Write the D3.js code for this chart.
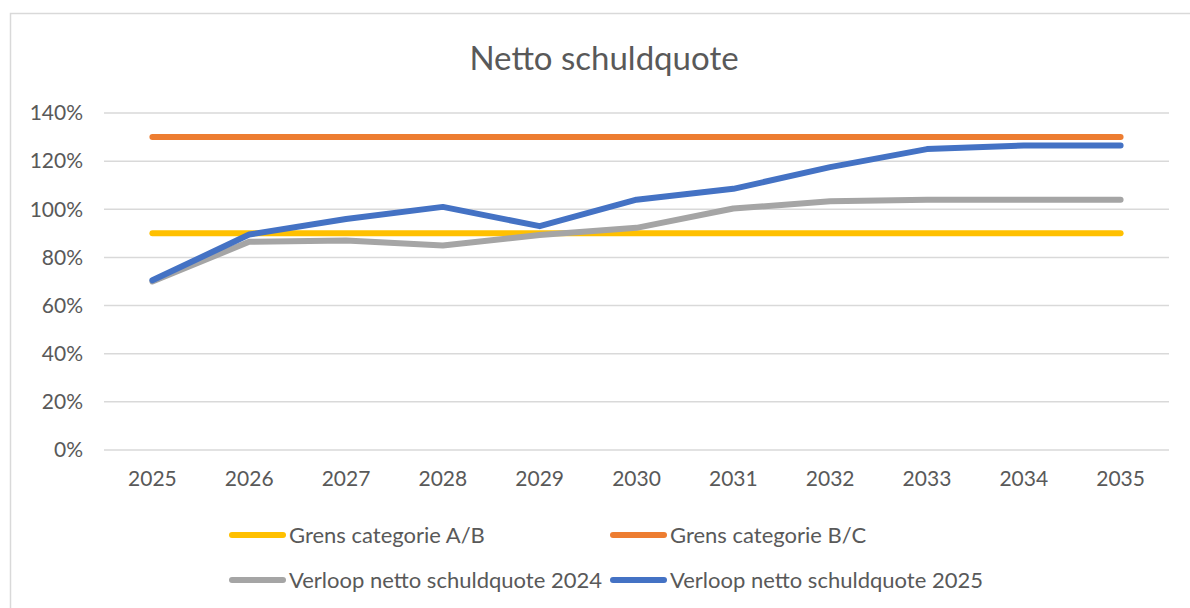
<!DOCTYPE html>
<html>
<head>
<meta charset="utf-8">
<script src="https://cdn.jsdelivr.net/npm/d3@7"></script>
<style>
  body { margin: 0; background: #fff; }
  svg { display: block; font-family: Lato, "Open Sans", sans-serif; }
</style>
</head>
<body>
<svg width="1190" height="608"></svg>
<script>
var years = ["2025", "2026", "2027", "2028", "2029", "2030", "2031", "2032", "2033", "2034", "2035"];
var grensAB = [90, 90, 90, 90, 90, 90, 90, 90, 90, 90, 90];
var grensBC = [130, 130, 130, 130, 130, 130, 130, 130, 130, 130, 130];
var verloop2024 = [70, 86.5, 87, 85, 89.3, 92.3, 100.3, 103.3, 104, 104, 104];
var verloop2025 = [70.5, 89.5, 96, 101, 93, 104, 108.5, 117.5, 125, 126.5, 126.5];
var yTicks = [0, 20, 40, 60, 80, 100, 120, 140];

var series = [
  { name: "Grens categorie A/B", values: grensAB, color: "#ffc000" },
  { name: "Grens categorie B/C", values: grensBC, color: "#ed7d31" },
  { name: "Verloop netto schuldquote 2024", values: verloop2024, color: "#a5a5a5" },
  { name: "Verloop netto schuldquote 2025", values: verloop2025, color: "#4472c4" }
];

var svg = d3.select("svg");
var plotLeft = 104, plotRight = 1169, plotTop = 113, plotBottom = 450;

// chart border
svg.append("rect")
  .attr("x", 10.5).attr("y", 13.5)
  .attr("width", 1200).attr("height", 620)
  .attr("fill", "none")
  .attr("stroke", "#d9d9d9")
  .attr("stroke-width", 1.5);

svg.append("text")
  .attr("x", 604)
  .attr("y", 70)
  .attr("text-anchor", "middle")
  .attr("font-size", "33px")
  .attr("fill", "#595959")
  .text("Netto schuldquote");

var x = d3.scaleBand().domain(years).range([plotLeft, plotRight]);
var y = d3.scaleLinear().domain([0, 140]).range([plotBottom, plotTop]);

// gridlines
svg.append("g")
  .selectAll("line")
  .data(yTicks)
  .enter()
  .append("line")
  .attr("x1", plotLeft).attr("x2", plotRight)
  .attr("y1", function (d) { return y(d); })
  .attr("y2", function (d) { return y(d); })
  .attr("stroke", "#d9d9d9")
  .attr("stroke-width", 1.5);

// y axis labels
var yAxis = svg.append("g")
  .attr("transform", "translate(" + (plotLeft - 21) + ",0)")
  .call(d3.axisLeft(y).tickValues(yTicks).tickSize(0).tickPadding(0)
    .tickFormat(function (d) { return d + "%"; }));
yAxis.select(".domain").remove();
yAxis.selectAll("text")
  .attr("font-size", "21px")
  .attr("fill", "#595959")
  .attr("font-family", "Lato, sans-serif");

// x axis labels
var xAxis = svg.append("g")
  .attr("transform", "translate(0," + plotBottom + ")")
  .call(d3.axisBottom(x).tickSize(0).tickPadding(21));
xAxis.select(".domain").remove();
xAxis.selectAll("text")
  .attr("font-size", "21px")
  .attr("fill", "#595959")
  .attr("font-family", "Lato, sans-serif");

var line = d3.line()
  .x(function (d, i) { return x(years[i]) + x.bandwidth() / 2; })
  .y(function (d) { return y(d); });

svg.append("g")
  .selectAll("path")
  .data(series)
  .enter()
  .append("path")
  .attr("d", function (s) { return line(s.values); })
  .attr("fill", "none")
  .attr("stroke", function (s) { return s.color; })
  .attr("stroke-width", 6)
  .attr("stroke-linecap", "round")
  .attr("stroke-linejoin", "round");

// legend
var legendPos = [[230, 535], [611, 535], [230, 580], [611, 580]];
var legend = svg.append("g")
  .selectAll("g")
  .data(series)
  .enter()
  .append("g")
  .attr("transform", function (d, i) { return "translate(" + legendPos[i][0] + "," + legendPos[i][1] + ")"; });

legend.append("line")
  .attr("x1", 2).attr("x2", 53)
  .attr("y1", 0).attr("y2", 0)
  .attr("stroke", function (d) { return d.color; })
  .attr("stroke-width", 6)
  .attr("stroke-linecap", "round");

legend.append("text")
  .attr("x", 59)
  .attr("y", 8)
  .attr("font-size", "22px")
  .attr("fill", "#595959")
  .text(function (d) { return d.name; });
</script>
</body>
</html>
